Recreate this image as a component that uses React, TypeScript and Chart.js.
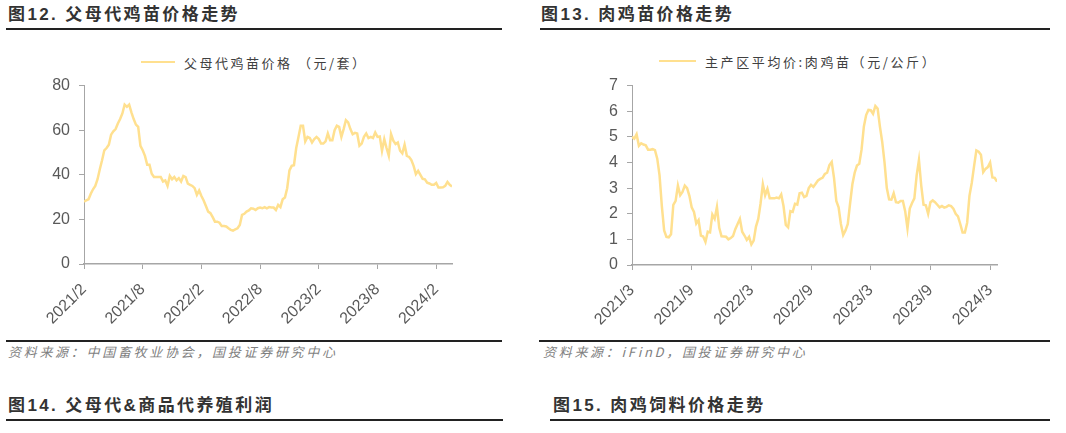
import React, { useEffect, useRef } from "react";
import { Chart, registerables } from "chart.js";

Chart.register(...registerables);

// weekly series, week 0 = first tick month
const parentChickTicks = ["2021/2", "2021/8", "2022/2", "2022/8", "2023/2", "2023/8", "2024/2"];
const parentChickPrice = [
  28, 28.5, 29, 31.5, 33.5, 35, 38, 42.5, 46.5, 51,
  52, 53.5, 58, 59.5, 60.5, 63, 65, 67.5, 71.5, 70.5,
  71.5, 68, 65, 62.5, 61.5, 53, 51, 48.5, 44.5, 44.5,
  40.5, 39, 39, 39, 39, 37, 37.5, 35, 39.5, 38,
  39, 37.5, 38.5, 37, 39.5, 39, 36, 35.5, 35, 34,
  31, 33, 30.5, 28.5, 26, 23.5, 22.8, 21, 19, 19,
  18.5, 17, 17, 16.8, 16, 15.3, 15, 15.5, 16, 17.5,
  22, 22.5, 23.5, 24, 25, 24.8, 24.2, 25, 25.3, 25,
  25.5, 25, 25.5, 25.3, 25.3, 24.2, 26.5, 25.5, 29, 29.8,
  34, 42, 44, 44.3, 52, 57, 62, 62, 55, 57,
  56.5, 54.5, 56, 57, 56, 54, 54, 55, 58.5, 55.5,
  55.5, 60, 62, 61.5, 57, 60.5, 64.5, 63.5, 60.5, 58.2,
  58.8, 58.5, 53, 54, 57, 58.5, 56.5, 57, 56.5, 59,
  57, 57.2, 50.8, 56, 52, 48.5, 58.3, 55.3, 53.8, 54.5,
  50.8, 49.6, 53.5, 48.5, 48, 46.6, 44, 40.3, 41.8, 40,
  38.2, 38, 36.5, 36.1, 35.5, 35.5, 36.3, 34.3, 34.3, 34.4,
  35, 36.8, 35.5, 34.8,
];

const broilerChickTicks = ["2021/3", "2021/9", "2022/3", "2022/9", "2023/3", "2023/9", "2024/3"];
const broilerChickPrice = [
  5.0, 4.93, 5.1, 4.65, 4.75, 4.7, 4.67, 4.5, 4.5, 4.52,
  4.48, 4.15, 3.5, 2.3, 1.35, 1.1, 1.08, 1.2, 2.35, 2.5,
  3.1, 2.72, 2.85, 3.1, 3.0, 2.7, 2.25, 2.07, 1.62, 1.75,
  1.15, 1.11, 0.9, 1.3, 1.27, 1.97, 1.8, 2.27, 1.45, 1.12,
  1.11, 1.1, 1.0, 1.05, 1.13, 1.4, 1.6, 1.8, 1.3, 1.15,
  0.98, 1.1, 0.8, 0.95, 1.5, 1.8, 2.4, 3.15, 2.72, 2.97,
  2.6, 2.6, 2.6, 2.63, 2.6, 2.75, 2.3, 1.56, 1.47, 2.1,
  2.07, 2.39, 2.36, 2.8, 2.82, 2.65, 2.7, 3.0, 3.13, 3.05,
  3.17, 3.3, 3.36, 3.4, 3.55, 3.6, 3.9, 4.02, 3.4, 2.5,
  2.25, 1.6, 1.17, 1.35, 1.6, 2.4, 3.15, 3.6, 3.88, 3.95,
  4.5, 5.4, 5.85, 6.05, 6.04, 5.9, 6.2, 6.1, 5.4, 4.8,
  4.0, 3.0, 2.56, 2.55, 2.8, 2.45, 2.43, 2.5, 2.5, 2.1,
  1.43, 2.2, 2.42, 2.6, 3.5, 4.1, 3.1, 2.35, 2.33, 2.0,
  2.45, 2.52, 2.45, 2.35, 2.25, 2.3, 2.24, 2.27, 2.33, 2.3,
  2.2, 2.0, 1.9, 1.6, 1.27, 1.27, 1.65, 2.7, 3.2, 3.85,
  4.47, 4.42, 4.3, 3.62, 3.75, 3.82, 4.0, 3.42, 3.4, 3.25,
];

const LINE = "#FFE08F";
const AXIS = "#A6A6A6";
const TICK_TXT = "#595959";
const CJK = "'Noto Sans CJK SC', sans-serif";
const LATIN = "'Liberation Sans', 'Noto Sans CJK SC', sans-serif";

type ChartProps = {
  values: number[];
  ticks: string[];
  yMax: number;
  yStep: number;
  yWidth: number;
  rightGap: number;
  label: string;
};

function TrendChart({ values, ticks, yMax, yStep, yWidth, rightGap, label }: ChartProps) {
  const canvasRef = useRef<HTMLCanvasElement | null>(null);

  useEffect(() => {
    const ctx = canvasRef.current?.getContext("2d");
    if (!ctx) return;
    const chart = new Chart(ctx, {
      type: "line",
      data: {
        datasets: [
          {
            label,
            data: values.map((v, i) => ({ x: i, y: v })),
            borderColor: LINE,
            backgroundColor: LINE,
            borderWidth: 2.5,
            pointRadius: 0,
            tension: 0,
          },
        ],
      },
      options: {
        responsive: true,
        maintainAspectRatio: false,
        animation: false,
        layout: { padding: 0 },
        plugins: { legend: { display: false }, tooltip: { enabled: false } },
        scales: {
          x: {
            type: "linear",
            min: 0,
            max: values.length - 1,
            border: { display: true, color: AXIS, width: 1.5 },
            grid: { display: true, drawOnChartArea: false, drawTicks: true, tickLength: 5, color: AXIS },
            ticks: {
              stepSize: 26,
              includeBounds: false,
              autoSkip: false,
              minRotation: 45,
              maxRotation: 45,
              padding: 11,
              color: TICK_TXT,
              font: { family: LATIN, size: 16 },
              callback: (v) => {
                const n = Number(v);
                return n % 26 === 0 ? ticks[n / 26] ?? "" : "";
              },
            },
            afterFit: (s) => { s.height = 70; },
          },
          y: {
            min: 0,
            max: yMax,
            border: { display: true, color: AXIS, width: 1 },
            grid: { display: true, drawOnChartArea: false, drawTicks: true, tickLength: 5, color: AXIS },
            ticks: {
              stepSize: yStep,
              padding: 9,
              color: TICK_TXT,
              font: { family: LATIN, size: 16 },
            },
            afterFit: (s) => { s.width = yWidth; },
          },
          yR: {
            position: "right",
            display: true,
            border: { display: false },
            grid: { display: false },
            ticks: { display: false },
            afterFit: (s) => { s.width = rightGap; },
          },
        },
      },
    });
    return () => chart.destroy();
  }, [values, ticks, yMax, yStep, yWidth, rightGap, label]);

  return <canvas ref={canvasRef} />;
}

const abs = (l: number, t: number, w: number, h: number): React.CSSProperties => ({
  position: "absolute", left: l, top: t, width: w, height: h,
});

function Rule({ x1, x2, y, h = 2 }: { x1: number; x2: number; y: number; h?: number }) {
  return <div style={{ ...abs(x1, y - h / 2, x2 - x1, h), background: "#222" }} />;
}

function Heading({ x, y, text }: { x: number; y: number; text: string }) {
  return (
    <div style={{ position: "absolute", left: x, top: y, fontFamily: LATIN, fontSize: 17, fontWeight: 700,
      letterSpacing: 2.4, color: "#333", whiteSpace: "nowrap", lineHeight: "20px" }}>{text}</div>
  );
}

function Source({ x, y, text }: { x: number; y: number; text: string }) {
  return (
    <div style={{ position: "absolute", left: x, top: y, fontFamily: CJK, fontSize: 13, fontStyle: "italic",
      letterSpacing: 2.7, color: "#7F7F7F", whiteSpace: "nowrap", lineHeight: "16px" }}>{text}</div>
  );
}

function Legend({ x, y, w, text, spacing }: { x: number; y: number; w: number; text: string; spacing: number }) {
  return (
    <div style={{ position: "absolute", left: x, top: y - 9, height: 18, display: "flex", alignItems: "center",
      whiteSpace: "nowrap" }}>
      <span style={{ display: "inline-block", width: w, height: 2.5, background: LINE }} />
      <span style={{ marginLeft: 9, fontFamily: CJK, fontSize: 13, letterSpacing: spacing, color: "#404040" }}>{text}</span>
    </div>
  );
}

export default function App() {
  return (
    <div style={{ position: "fixed", left: 0, top: 0, width: 1066, height: 433, background: "#fff", overflow: "hidden" }}>
      <Heading x={8} y={5} text="图12. 父母代鸡苗价格走势" />
      <Rule x1={6} x2={502} y={29} />
      <Heading x={541} y={5} text="图13. 肉鸡苗价格走势" />
      <Rule x1={540} x2={1050} y={29} />

      <Legend x={141} y={62} w={34} text="父母代鸡苗价格 （元/套）" spacing={2.5} />
      <Legend x={659} y={61} w={37} text="主产区平均价:肉鸡苗（元/公斤）" spacing={2.6} />

      <div style={abs(0, 67, 502, 267)}>
        <TrendChart values={parentChickPrice} ticks={parentChickTicks} yMax={80} yStep={20}
          yWidth={84} rightGap={50} label="父母代鸡苗价格 （元/套）" />
      </div>
      <div style={abs(540, 67, 510, 268)}>
        <TrendChart values={broilerChickPrice} ticks={broilerChickTicks} yMax={7} yStep={1}
          yWidth={92} rightGap={53} label="主产区平均价:肉鸡苗（元/公斤）" />
      </div>

      <Rule x1={6} x2={502} y={341} h={1.5} />
      <Source x={8} y={344} text="资料来源：中国畜牧业协会，国投证券研究中心" />
      <Rule x1={539} x2={1050} y={341} h={1.5} />
      <Source x={543} y={344} text="资料来源：iFinD，国投证券研究中心" />

      <Heading x={8} y={396} text="图14. 父母代&商品代养殖利润" />
      <Rule x1={6} x2={503} y={420} />
      <Heading x={553} y={396} text="图15. 肉鸡饲料价格走势" />
      <Rule x1={550} x2={1050} y={420} />
    </div>
  );
}
